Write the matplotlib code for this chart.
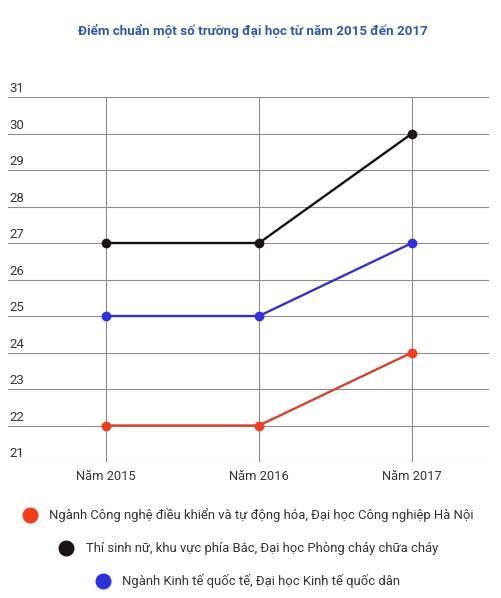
import matplotlib
matplotlib.use("Agg")
import matplotlib.pyplot as plt
from matplotlib.lines import Line2D

plt.rcParams['font.family'] = ['Roboto', 'DejaVu Sans']

categories = ["Năm 2015", "Năm 2016", "Năm 2017"]
series_names = [
    "Ngành Công nghệ điều khiển và tự động hóa, Đại học Công nghiệp Hà Nội",
    "Thí sinh nữ, khu vực phía Bắc, Đại học Phòng cháy chữa cháy",
    "Ngành Kinh tế quốc tế, Đại học Kinh tế quốc dân",
]
values_hn = [22, 22, 24]
values_pccc = [27, 27, 30]
values_ktqd = [25, 25, 27]
y_ticks = [21, 22, 23, 24, 25, 26, 27, 28, 29, 30, 31]

marker_colors = ["#f23c1c", "#1a1414", "#2b33dc"]
line_colors = ["#d2452d", "#111111", "#3a30c4"]

W, H = 502, 598
fig = plt.figure(figsize=(W / 100, H / 100), dpi=100)
fig.patch.set_facecolor("white")

ax_left, ax_right = 8, 489
ax_top, ax_bottom = 97, 462
ax = fig.add_axes([ax_left / W, 1 - ax_bottom / H, (ax_right - ax_left) / W, (ax_bottom - ax_top) / H])

x = list(range(len(categories)))
x0_px, dx_px = 106, 153
ax.set_xlim((ax_left - x0_px) / dx_px, (ax_right - x0_px) / dx_px)
ax.set_ylim(21, 31)

grid_color = "#8f8a94"
for yv in y_ticks:
    ax.axhline(yv, color=grid_color, lw=0.8, zorder=1)
for xv in x:
    ax.axvline(xv, color=grid_color, lw=0.8, zorder=1)

for vals, mc, lc in zip([values_hn, values_pccc, values_ktqd], marker_colors, line_colors):
    ax.plot(x, vals, color=lc, lw=1.7, zorder=3)
    ax.plot(x, vals, 'o', color=mc, markersize=6, zorder=4)

for sp in ax.spines.values():
    sp.set_visible(False)
ax.set_yticks([])
ax.set_xticks(x)
ax.set_xticklabels(categories, fontsize=9.3, color="#333333")
ax.tick_params(axis='x', length=0, pad=6)

for yv in y_ticks:
    ax.annotate(str(yv), xy=(0, yv), xycoords=('axes fraction', 'data'),
                xytext=(1, 1.2), textcoords='offset points',
                ha='left', va='bottom', fontsize=9.5, color="#333333")

fig.text(253 / W, 1 - 31 / H, "Điểm chuẩn một số trường đại học từ năm 2015 đến 2017",
         ha='center', va='center', fontsize=9.6, fontweight='bold', color="#2d5aa8")

legend_pos = [(30, 49, 515), (66, 86, 548), (103, 122, 581)]
for (cx, tx, cy), name, mc in zip(legend_pos, series_names, marker_colors):
    fig.add_artist(Line2D([cx / W], [1 - cy / H], marker='o', markersize=10.5,
                          color=mc, linestyle='none', transform=fig.transFigure))
    fig.text(tx / W, 1 - cy / H, name, ha='left', va='center', fontsize=9.4, color="#333333")

fig.savefig("out.png", dpi=100)
